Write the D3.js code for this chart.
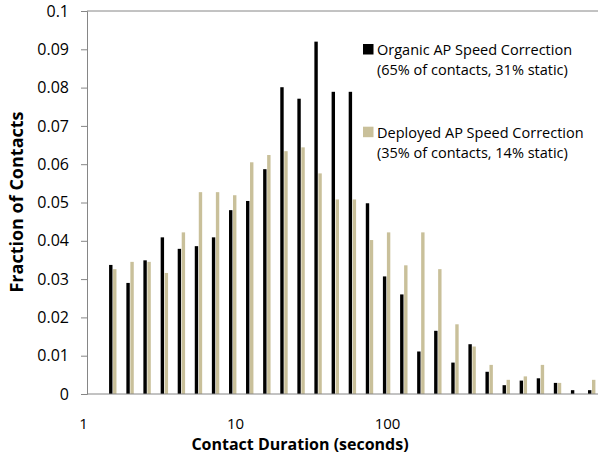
<!DOCTYPE html>
<html>
<head>
<meta charset="utf-8">
<script src="https://cdn.jsdelivr.net/npm/d3@7"></script>
<style>
	body { margin: 0; background: #fff; }
	svg text { font-family: "Open Sans", sans-serif; fill: #000; }
</style>
</head>
<body>
<div id="chart"></div>
<script>
// bin centres (seconds)
var bins = [1.57, 2.04, 2.64, 3.43, 4.44, 5.75, 7.45, 9.66, 12.5, 16.2, 21.0, 27.2, 35.2, 45.7,
	59.2, 76.7, 99.4, 129, 167, 216, 280, 363, 470, 609, 789, 1022, 1324, 1715, 2222];
var organic = [0.0337, 0.0290, 0.0349, 0.0409, 0.0379, 0.0386, 0.0409, 0.0480, 0.0504, 0.0587,
	0.0801, 0.0771, 0.0920, 0.0789, 0.0789, 0.0498, 0.0307, 0.0260, 0.0111, 0.0165,
	0.0082, 0.0130, 0.0058, 0.0023, 0.0035, 0.0041, 0.0029, 0.0010, 0.0010];
var deployed = [0.0326, 0.0345, 0.0345, 0.0316, 0.0422, 0.0527, 0.0527, 0.0519, 0.0605, 0.0624,
	0.0634, 0.0644, 0.0576, 0.0508, 0.0508, 0.0402, 0.0422, 0.0336, 0.0422, 0.0326,
	0.0182, 0.0124, 0.0076, 0.0037, 0.0046, 0.0076, 0.0029, 0, 0.0037];
var yTicks = [0, 0.01, 0.02, 0.03, 0.04, 0.05, 0.06, 0.07, 0.08, 0.09, 0.1];
var xTicks = [1, 10, 100];
var seriesNames = ["Organic AP Speed Correction", "Deployed AP Speed Correction"];
var seriesNotes = ["(65% of contacts, 31% static)", "(35% of contacts, 14% static)"];
var seriesColors = ["#000000", "#c9c09a"];

(function() {
	var width = 598, height = 454,
		plotLeft = 87, plotRight = 598, plotTop = 11, plotBottom = 394,
		barW = 3.4;

	var svg = d3.select("#chart").append("svg")
		.attr("width", width)
		.attr("height", height);

	var x = d3.scaleLog().domain([1, 1000]).range([83, 539]);
	var y = d3.scaleLinear().domain([0, 0.1]).range([plotBottom, plotTop]);

	// top border line
	svg.append("line")
		.attr("x1", plotLeft).attr("x2", plotRight)
		.attr("y1", plotTop).attr("y2", plotTop)
		.attr("stroke", "#868686");

	var yAxis = svg.append("g")
		.attr("transform", "translate(" + plotLeft + ",0)")
		.call(d3.axisLeft(y)
			.tickValues(yTicks)
			.tickFormat(d3.format("~g"))
			.tickSize(6)
			.tickPadding(12));
	yAxis.select(".domain").attr("stroke", "#868686");
	yAxis.selectAll(".tick line").attr("stroke", "#868686");
	yAxis.selectAll(".tick text").attr("font-size", 16);

	var xAxis = svg.append("g")
		.attr("transform", "translate(0," + plotBottom + ")")
		.call(d3.axisBottom(x)
			.tickValues(xTicks)
			.tickFormat(d3.format("d"))
			.tickSize(0)
			.tickPadding(24));
	xAxis.select(".domain").remove();
	xAxis.selectAll(".tick text").attr("font-size", 15);

	// bars
	[organic, deployed].forEach(function(vals, s) {
		svg.append("g").selectAll("rect")
			.data(vals)
			.enter().append("rect")
			.attr("x", function(d, i) { return x(bins[i]) + (s === 0 ? -3.7 : 0.3); })
			.attr("width", barW)
			.attr("y", function(d) { return y(d); })
			.attr("height", function(d) { return plotBottom - y(d); })
			.attr("fill", seriesColors[s]);
	});

	svg.append("line")
		.attr("x1", plotLeft).attr("x2", plotRight)
		.attr("y1", plotBottom).attr("y2", plotBottom)
		.attr("stroke", "#868686");

	// legend
	var legendY = [55, 137.7];
	seriesNames.forEach(function(name, s) {
		var g = svg.append("g");
		g.append("rect")
			.attr("x", 363).attr("y", legendY[s] - 11)
			.attr("width", 10.5).attr("height", 10.5)
			.attr("fill", seriesColors[s]);
		g.append("text")
			.attr("x", 377).attr("y", legendY[s])
			.attr("font-size", 14.5)
			.text(name);
		g.append("text")
			.attr("x", 377).attr("y", legendY[s] + 20)
			.attr("font-size", 14.5)
			.text(seriesNotes[s]);
	});

	// axis titles
	svg.append("text")
		.attr("transform", "translate(23,202) rotate(-90)")
		.attr("text-anchor", "middle")
		.attr("font-size", 18)
		.attr("font-weight", "bold")
		.text("Fraction of Contacts");

	svg.append("text")
		.attr("x", 300).attr("y", 450)
		.attr("text-anchor", "middle")
		.attr("font-size", 16)
		.attr("font-weight", "bold")
		.text("Contact Duration (seconds)");
})();
</script>
</body>
</html>
